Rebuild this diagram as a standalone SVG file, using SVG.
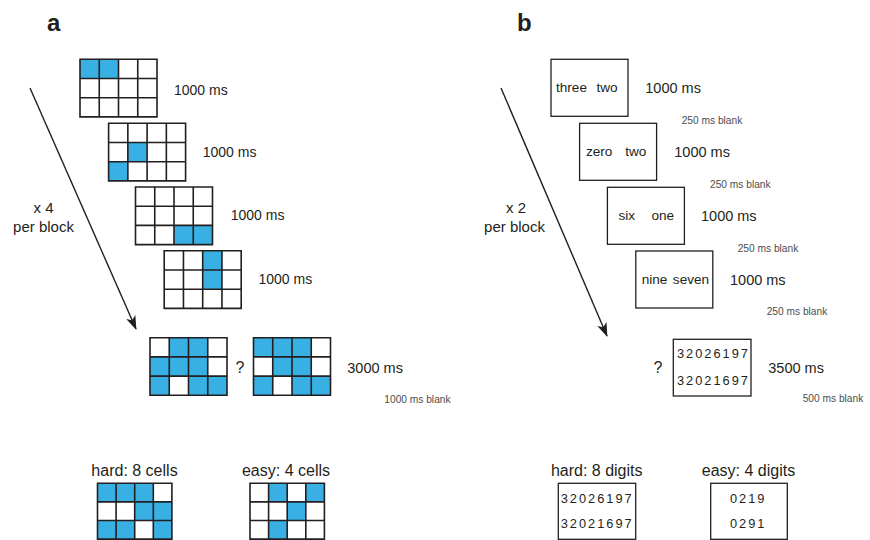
<svg xmlns="http://www.w3.org/2000/svg" xmlns:xlink="http://www.w3.org/1999/xlink" width="870" height="540" viewBox="0 0 870 540">
<style>
text{font-family:"Liberation Sans",Arial,sans-serif;fill:#231f20}
.hd{font-size:24px;font-weight:bold}
.t{font-size:14px}
.t2{font-size:14.5px}
.q{font-size:16px}
.lb{font-size:15px}
.lg{font-size:16px}
.sm{font-size:10.2px;fill:#4d4d4d}
.w{font-size:13.6px}
.d{font-size:12.8px;letter-spacing:2px}
.gl{fill:none;stroke:#231f20;stroke-width:1.6}
.on{fill:#39b0e4}
.bx{fill:#fff;stroke:#231f20;stroke-width:1.3}
.ar{fill:none;stroke:#231f20;stroke-width:1.4}
</style>
<defs>
<path id="g" d="M0 0H77V57.6H0Z M19.25 0V57.6 M38.5 0V57.6 M57.75 0V57.6 M0 19.2H77 M0 38.4H77"/>
<path id="gs" d="M0 0H74.4V55.8H0Z M18.6 0V55.8 M37.2 0V55.8 M55.8 0V55.8 M0 18.6H74.4 M0 37.2H74.4"/>
<marker id="ah" viewBox="0 0 14 10" refX="13" refY="5" markerWidth="14" markerHeight="10" markerUnits="userSpaceOnUse" orient="auto">
<path d="M0 0L14 5L0 10L3.5 5Z" fill="#231f20"/>
</marker>
</defs>

<text class="hd" x="47" y="31">a</text>
<text class="hd" x="517" y="31">b</text>

<g id="connectors">
<line class="ar" x1="30" y1="88" x2="136" y2="329" marker-end="url(#ah)"/>
<line class="ar" x1="501" y1="88" x2="607" y2="336" marker-end="url(#ah)"/>
</g>

<text class="lb" x="43.5" y="213" text-anchor="middle">x 4</text>
<text class="lb" x="43.5" y="232" text-anchor="middle">per block</text>
<text class="lb" x="516" y="213" text-anchor="middle">x 2</text>
<text class="lb" x="514.5" y="232" text-anchor="middle">per block</text>

<g id="grid1" transform="translate(80,59.3)">
<rect class="on" x="0" y="0" width="19.25" height="19.2"/>
<rect class="on" x="19.25" y="0" width="19.25" height="19.2"/>
<use href="#g" class="gl"/>
</g>
<text class="t" x="174" y="94.5">1000 ms</text>

<g id="grid2" transform="translate(108.6,123.3)">
<rect class="on" x="19.25" y="19.2" width="19.25" height="19.2"/>
<rect class="on" x="0" y="38.4" width="19.25" height="19.2"/>
<use href="#g" class="gl"/>
</g>
<text class="t" x="202.7" y="157">1000 ms</text>

<g id="grid3" transform="translate(135.5,187)">
<rect class="on" x="38.5" y="38.4" width="19.25" height="19.2"/>
<rect class="on" x="57.75" y="38.4" width="19.25" height="19.2"/>
<use href="#g" class="gl"/>
</g>
<text class="t" x="230.7" y="220">1000 ms</text>

<g id="grid4" transform="translate(164.2,250.8)">
<rect class="on" x="38.5" y="0" width="19.25" height="38.4"/>
<use href="#g" class="gl"/>
</g>
<text class="t" x="258.5" y="284">1000 ms</text>

<g id="gridA" transform="translate(150,337.7)">
<rect class="on" x="19.25" y="0" width="38.5" height="19.2"/>
<rect class="on" x="0" y="19.2" width="57.75" height="19.2"/>
<rect class="on" x="0" y="38.4" width="19.25" height="19.2"/>
<rect class="on" x="38.5" y="38.4" width="38.5" height="19.2"/>
<use href="#g" class="gl"/>
</g>
<text class="q" x="240" y="373" text-anchor="middle">?</text>
<g id="gridB" transform="translate(253.5,337.7)">
<rect class="on" x="0" y="0" width="57.75" height="19.2"/>
<rect class="on" x="19.25" y="19.2" width="38.5" height="19.2"/>
<rect class="on" x="0" y="38.4" width="19.25" height="19.2"/>
<rect class="on" x="38.5" y="38.4" width="38.5" height="19.2"/>
<use href="#g" class="gl"/>
</g>
<text class="t2" x="347.3" y="373">3000 ms</text>
<text class="sm" x="384.3" y="403">1000 ms blank</text>

<text class="lg" x="134.5" y="475.5" text-anchor="middle">hard: 8 cells</text>
<g id="gridHard" transform="translate(97.5,483.3)">
<rect class="on" x="0" y="0" width="55.8" height="18.6"/>
<rect class="on" x="37.2" y="18.6" width="37.2" height="18.6"/>
<rect class="on" x="0" y="37.2" width="37.2" height="18.6"/>
<rect class="on" x="55.8" y="37.2" width="18.6" height="18.6"/>
<use href="#gs" class="gl"/>
</g>
<text class="lg" x="286" y="475.5" text-anchor="middle">easy: 4 cells</text>
<g id="gridEasy" transform="translate(250,483.3)">
<rect class="on" x="18.6" y="0" width="18.6" height="18.6"/>
<rect class="on" x="55.8" y="0" width="18.6" height="18.6"/>
<rect class="on" x="37.2" y="18.6" width="18.6" height="18.6"/>
<rect class="on" x="18.6" y="37.2" width="18.6" height="18.6"/>
<use href="#gs" class="gl"/>
</g>

<g id="box1">
<rect class="bx" x="551" y="59.3" width="77" height="57"/>
<text class="w" x="571.5" y="92" text-anchor="middle">three</text>
<text class="w" x="607" y="92" text-anchor="middle">two</text>
</g>
<text class="t2" x="645.3" y="93.3">1000 ms</text>
<text class="sm" x="681.7" y="123.5">250 ms blank</text>

<g id="box2">
<rect class="bx" x="579.6" y="123.3" width="77" height="57"/>
<text class="w" x="599.2" y="156" text-anchor="middle">zero</text>
<text class="w" x="635.8" y="156" text-anchor="middle">two</text>
</g>
<text class="t2" x="674.3" y="157.3">1000 ms</text>
<text class="sm" x="710" y="187.5">250 ms blank</text>

<g id="box3">
<rect class="bx" x="607.4" y="187.3" width="77" height="57"/>
<text class="w" x="626.7" y="220" text-anchor="middle">six</text>
<text class="w" x="662.8" y="220" text-anchor="middle">one</text>
</g>
<text class="t2" x="701" y="221">1000 ms</text>
<text class="sm" x="737.7" y="251.5">250 ms blank</text>

<g id="box4">
<rect class="bx" x="635.8" y="251" width="77" height="57"/>
<text class="w" x="654.5" y="283.5" text-anchor="middle">nine</text>
<text class="w" x="691" y="283.5" text-anchor="middle">seven</text>
</g>
<text class="t2" x="730" y="285.3">1000 ms</text>
<text class="sm" x="766.7" y="315">250 ms blank</text>

<text class="q" x="658" y="373" text-anchor="middle">?</text>
<g id="queryBox">
<rect class="bx" x="673.3" y="339.3" width="77.7" height="56.7"/>
<text class="d" x="677" y="357.7">32026197</text>
<text class="d" x="677" y="385">32021697</text>
</g>
<text class="t2" x="768.3" y="373.3">3500 ms</text>
<text class="sm" x="802.7" y="402">500 ms blank</text>

<text class="lg" x="596.7" y="475.5" text-anchor="middle">hard: 8 digits</text>
<g id="hardBox">
<rect class="bx" x="558.3" y="483.3" width="77.4" height="56"/>
<text class="d" x="560.7" y="502.7">32026197</text>
<text class="d" x="560.7" y="528.3">32021697</text>
</g>
<text class="lg" x="748.5" y="475.5" text-anchor="middle">easy: 4 digits</text>
<g id="easyBox">
<rect class="bx" x="710.7" y="483.3" width="76.6" height="56"/>
<text class="d" x="730" y="502.7">0219</text>
<text class="d" x="730" y="528.3">0291</text>
</g>
</svg>
